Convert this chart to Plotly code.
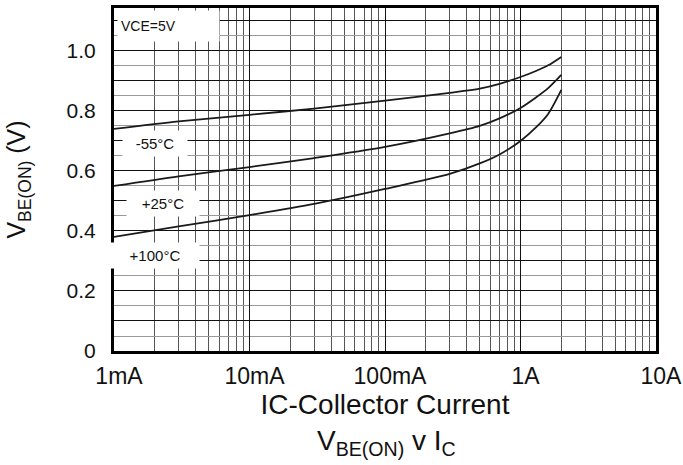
import plotly.graph_objects as go

# Collector current (A) and base-emitter on-voltage (V) for three temperatures
current_a = [0.001, 0.003, 0.01, 0.03, 0.1, 0.3, 0.5, 0.7, 1.0, 1.3, 1.6, 2.0]
vbe_m55 = [0.74, 0.765, 0.787, 0.808, 0.834, 0.860, 0.874, 0.890, 0.913, 0.933, 0.952, 0.98]
vbe_p25 = [0.55, 0.582, 0.613, 0.643, 0.68, 0.725, 0.75, 0.775, 0.81, 0.845, 0.876, 0.92]
vbe_p100 = [0.38, 0.415, 0.453, 0.49, 0.54, 0.59, 0.625, 0.655, 0.70, 0.745, 0.79, 0.87]

x_tickvals = [0.001, 0.01, 0.1, 1, 10]
x_ticktext = ["1mA", "10mA", "100mA", "1A", "10A"]
y_tickvals = [0, 0.1, 0.2, 0.3, 0.4, 0.5, 0.6, 0.7, 0.8, 0.9, 1.0, 1.1]
y_ticktext = ["0", "", "0.2", "", "0.4", "", "0.6", "", "0.8", "", "1.0", ""]

series = [
    ("-55°C", vbe_m55),
    ("+25°C", vbe_p25),
    ("+100°C", vbe_p100),
]

FONT = "Liberation Sans, Arial, sans-serif"

fig = go.Figure()
for name, vals in series:
    fig.add_trace(go.Scatter(
        x=current_a, y=vals, name=name, mode="lines",
        line=dict(color="#1a1a1a", width=1.8, shape="spline", smoothing=0.8),
        showlegend=False,
    ))

fig.update_layout(
    width=683, height=465,
    margin=dict(l=114, r=27, t=8, b=114),
    paper_bgcolor="white", plot_bgcolor="white",
    font=dict(family=FONT, color="#111"),
)

fig.update_xaxes(
    type="log", range=[-3, 1], automargin=False,
    tickvals=x_tickvals, ticktext=x_ticktext,
    tickfont=dict(size=23), ticklabelshift=5, ticklabelstandoff=2,
    ticklabeloverflow="allow",
    showgrid=True, gridcolor="#111", gridwidth=1.2,
    minor=dict(dtick="D1", showgrid=True, gridcolor="#555", gridwidth=1),
    showline=True, linecolor="#000", linewidth=3, mirror=True,
    ticks="", zeroline=False,
    title=dict(text="IC-Collector Current", font=dict(size=28), standoff=4),
)

fig.update_yaxes(
    range=[0, 1.143], automargin=False,
    tickvals=y_tickvals, ticktext=y_ticktext,
    tickfont=dict(size=21),
    showgrid=True, gridcolor="#111", gridwidth=1.2,
    minor=dict(dtick=0.05, tick0=0, showgrid=True, gridcolor="#999", gridwidth=1),
    showline=True, linecolor="#000", linewidth=3, mirror=True,
    ticks="", zeroline=False, ticklabelstandoff=11,
    title=dict(text="V<sub>BE(ON)</sub> (V)", font=dict(size=25), standoff=34),
)

# Condition box in the upper-left corner
fig.add_annotation(
    xref="x domain", yref="y domain", x=0.005, y=0.994,
    xanchor="left", yanchor="top",
    text="VCE=5V", showarrow=False,
    font=dict(size=14, family=FONT, color="#111"),
    bgcolor="white", borderpad=3, width=95, height=24, align="left",
)

# Temperature labels under each curve: (text, x in axis-domain fraction, y in volts, box width)
label_pos = [("-55°C", 0.0756, 0.69, 56), ("+25°C", 0.090, 0.493, 64), ("+100°C", 0.076, 0.317, 80)]
for text, xd, yv, w in label_pos:
    fig.add_annotation(
        xref="x domain", yref="y", x=xd, y=yv,
        xanchor="center", yanchor="middle",
        text=text, showarrow=False,
        font=dict(size=15, family=FONT, color="#111"),
        bgcolor="white", borderpad=4, width=w, align="center",
    )

# Caption under the chart
fig.add_annotation(
    xref="paper", yref="paper", x=0.502, y=-0.268,
    xanchor="center", yanchor="middle",
    text="V<sub>BE(ON)</sub> v I<sub>C</sub>", showarrow=False,
    font=dict(size=28, family=FONT, color="#111"),
)

fig.write_html("out.html")
